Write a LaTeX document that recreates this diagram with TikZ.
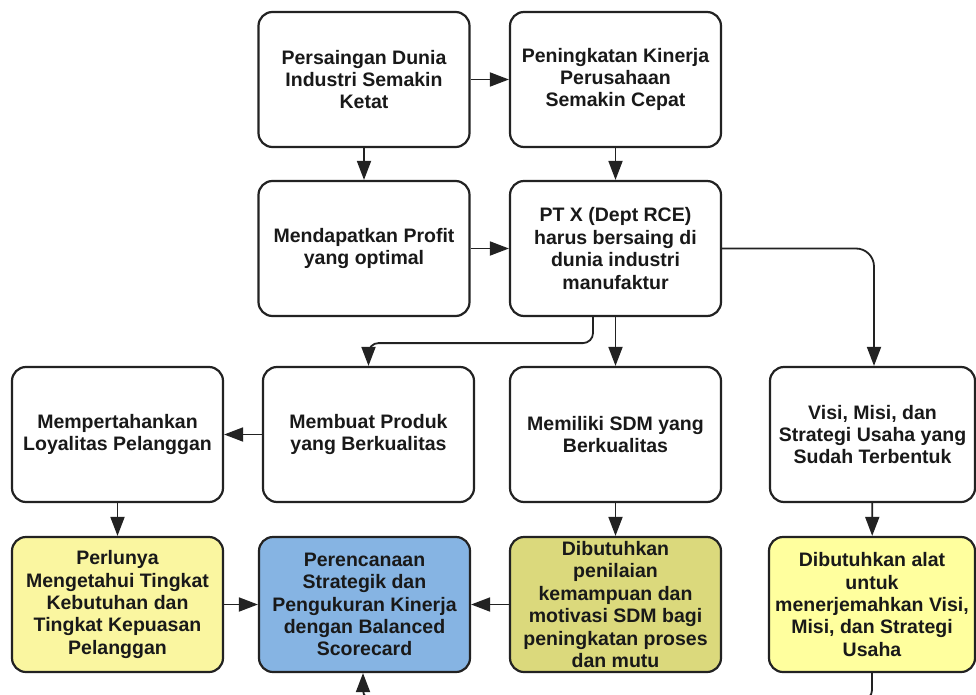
\documentclass[tikz,border=0pt]{standalone}
\usepackage{fontspec}
\setmainfont{Liberation Sans}
\usetikzlibrary{arrows.meta}

\definecolor{inkline}{HTML}{222222}
\definecolor{paleyellow}{HTML}{FAF6A0}
\definecolor{brightyellow}{HTML}{FFFF9E}
\definecolor{oliveyellow}{HTML}{DBD97C}
\definecolor{skyblue}{HTML}{86B4E3}

\tikzset{
  box/.style={draw=inkline, line width=2.2pt, rounded corners=14pt, fill=white,
    minimum width=211pt, minimum height=135pt, align=center, inner sep=2pt,
    font=\bfseries\fontsize{19.5}{22.4}\selectfont, text=black!90},
  conn/.style={draw=inkline, line width=1.8pt,
    -{Triangle[length=19pt,width=14pt]}},
}

\begin{document}
\begin{tikzpicture}[x=1pt, y=-1pt]
  \fill[white] (0,0) rectangle (976,695);
  \useasboundingbox (0,0) rectangle (976,695);

  % top row
  \node[box] (persaingan) at (364,79.5) {Persaingan Dunia\\Industri Semakin\\Ketat};
  \node[box] (peningkatan) at (615.5,79.5) {Peningkatan Kinerja\\Perusahaan\\Semakin Cepat};

  % second row
  \node[box] (profit) at (364,248.5) {Mendapatkan Profit\\yang optimal};
  \node[box] (ptx) at (615.5,248.5) {PT X (Dept RCE)\\harus bersaing di\\dunia industri\\manufaktur};

  % third row
  \node[box] (loyal) at (117.5,434.5) {Mempertahankan\\Loyalitas Pelanggan};
  \node[box] (produk) at (368.5,434.5) {Membuat Produk\\yang Berkualitas};
  \node[box] (sdm) at (615.5,434.5) {Memiliki SDM yang\\Berkualitas};
  \node[box, minimum width=205pt] (visi) at (872.5,434.5) {Visi, Misi, dan\\Strategi Usaha yang\\Sudah Terbentuk};

  % bottom row
  \node[box, fill=paleyellow] (perlu) at (117.5,604.5) {Perlunya\\Mengetahui Tingkat\\Kebutuhan dan\\Tingkat Kepuasan\\Pelanggan};
  \node[box, fill=skyblue] (bsc) at (364.5,604.5) {Perencanaan\\Strategik dan\\Pengukuran Kinerja\\dengan Balanced\\Scorecard};
  \node[box, fill=oliveyellow] (nilai) at (615.5,604.5) {Dibutuhkan\\penilaian\\kemampuan dan\\motivasi SDM bagi\\peningkatan proses\\dan mutu};
  \node[box, fill=brightyellow, minimum width=206pt] (alat) at (872,604.5) {Dibutuhkan alat\\untuk\\menerjemahkan Visi,\\Misi, dan Strategi\\Usaha};

  % connectors
  \draw[conn] (persaingan) -- (peningkatan);
  \draw[conn] (persaingan) -- (profit);
  \draw[conn] (peningkatan) -- (ptx);
  \draw[conn] (profit) -- (ptx);
  \draw[conn] (ptx) -- (sdm);
  \draw[conn, rounded corners=10pt] ([xshift=-22.5pt]ptx.south) -- ++(0,26) -| (produk.north);
  \draw[conn, rounded corners=18pt] (ptx.east) -| ([xshift=1.5pt]visi.north);
  \draw[conn] (produk) -- (loyal);
  \draw[conn] (loyal) -- (perlu);
  \draw[conn] (sdm) -- (nilai);
  \draw[conn] (visi) -- (alat);
  \draw[conn] (perlu) -- (bsc);
  \draw[conn] (nilai) -- (bsc);
  \draw[conn, rounded corners=10pt] (alat.south) -- ++(0,27) -| ([xshift=-1.5pt]bsc.south);
\end{tikzpicture}
\end{document}
